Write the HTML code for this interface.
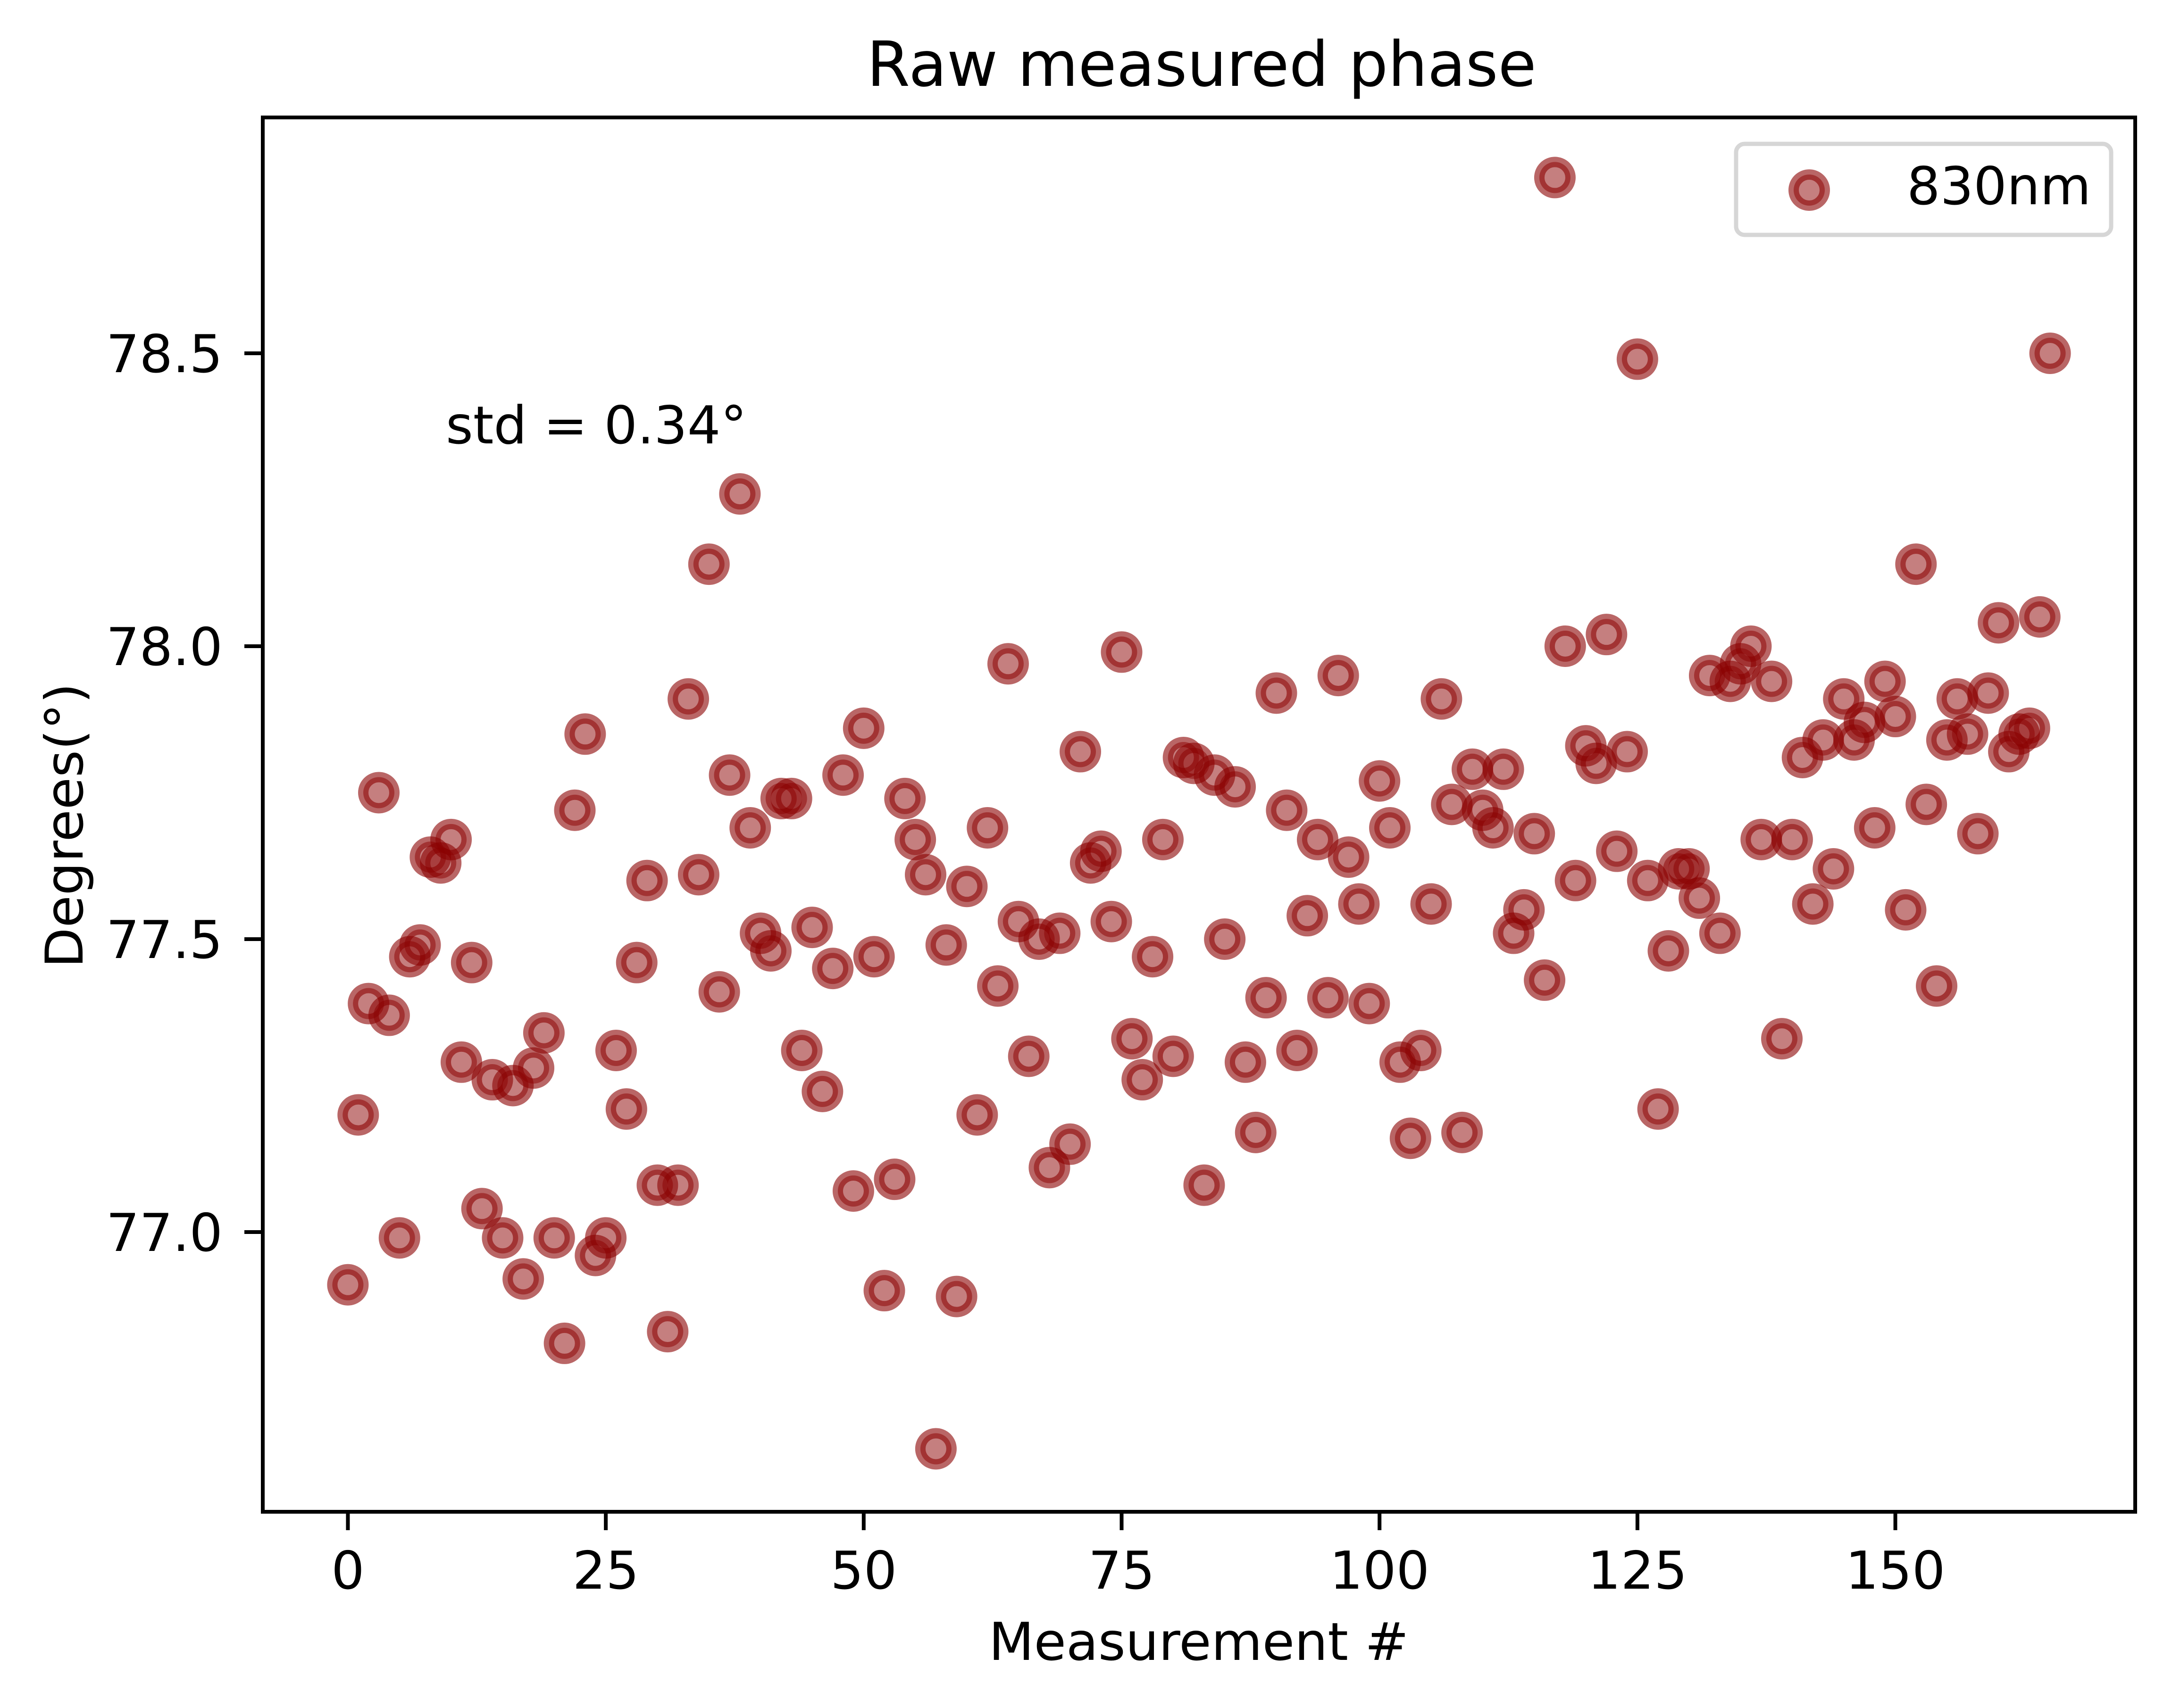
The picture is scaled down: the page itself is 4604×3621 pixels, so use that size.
<!DOCTYPE html>
<html><head><meta charset="utf-8"><style>
html,body{margin:0;padding:0;background:#fff;}
svg{display:block;font-family:"DejaVu Sans","Liberation Sans",sans-serif;}
</style></head><body>
<svg id="chart" width="4604" height="3621" viewBox="0 0 4604 3621" xmlns="http://www.w3.org/2000/svg">
<rect width="4604" height="3621" fill="#fff"/>
<text x="2547" y="182" font-size="132" text-anchor="middle">Raw measured phase</text>
<g id="marks"></g>
<g id="axes"></g>
<text x="945" y="940" font-size="111">std = 0.34°</text>
<text x="2541" y="3519" font-size="111" text-anchor="middle">Measurement #</text>
<text x="0" y="0" font-size="111" text-anchor="middle" transform="translate(175,1750) rotate(-90)">Degrees(°)</text>
<g>
<rect x="3680" y="305" width="795" height="193" rx="18" fill="#fff" fill-opacity="0.8" stroke="#d6d6d6" stroke-width="9"/>
<circle cx="3835" cy="403" r="33" fill="#8b0000" fill-opacity="0.5" stroke="#8b0000" stroke-opacity="0.6" stroke-width="22"/>
<text x="4042" y="433" font-size="111">830nm</text>
</g>
</svg>
<script>
const yValues = [76.91,77.20,77.39,77.75,77.37,76.99,77.47,77.49,77.64,77.63,77.67,77.29,77.46,77.04,77.26,76.99,77.25,76.92,77.28,77.34,
76.99,76.81,77.72,77.85,76.96,76.99,77.31,77.21,77.46,77.60,77.08,76.83,77.08,77.91,77.61,78.14,77.41,77.78,78.26,77.69,
77.51,77.48,77.74,77.74,77.31,77.52,77.24,77.45,77.78,77.07,77.86,77.47,76.90,77.09,77.74,77.67,77.61,76.63,77.49,76.89,
77.59,77.20,77.69,77.42,77.97,77.53,77.30,77.50,77.11,77.51,77.15,77.82,77.63,77.65,77.53,77.99,77.33,77.26,77.47,77.67,
77.30,77.81,77.80,77.08,77.78,77.50,77.76,77.29,77.17,77.40,77.92,77.72,77.31,77.54,77.67,77.40,77.95,77.64,77.56,77.39,
77.77,77.69,77.29,77.16,77.31,77.56,77.91,77.73,77.17,77.79,77.72,77.69,77.79,77.51,77.55,77.68,77.43,78.80,78.00,77.60,
77.83,77.80,78.02,77.65,77.82,78.49,77.60,77.21,77.48,77.62,77.62,77.57,77.95,77.51,77.94,77.97,78.00,77.67,77.94,77.33,
77.67,77.81,77.56,77.84,77.62,77.91,77.84,77.87,77.69,77.94,77.88,77.55,78.14,77.73,77.42,77.84,77.91,77.85,77.68,77.92,
78.04,77.82,77.85,77.86,78.05,78.50];
const xTicks = [0,25,50,75,100,125,150];
const yTicks = [77.0,77.5,78.0,78.5];
const yTickLabels = ["77.0","77.5","78.0","78.5"];

const NS="http://www.w3.org/2000/svg";
const L=557,R=4526,T=249,B=3205;
const n=yValues.length;
const xmin=-0.05*(n-1), xmax=(n-1)*1.05;
const ymin=76.5225, ymax=78.9026;
const sx=v=>L+(v-xmin)/(xmax-xmin)*(R-L);
const sy=v=>B-(v-ymin)/(ymax-ymin)*(B-T);
function mk(tag,attrs,parent){const e=document.createElementNS(NS,tag);for(const k in attrs)e.setAttribute(k,attrs[k]);parent.appendChild(e);return e;}
const marks=document.getElementById('marks');
yValues.forEach((v,i)=>{
  const c=mk('circle',{cx:sx(i),cy:sy(v),r:33,fill:'#8b0000','fill-opacity':0.5,stroke:'#8b0000','stroke-opacity':0.6,'stroke-width':22},marks);
  
  
});
const axes=document.getElementById('axes');
const frame=mk('rect',{x:L,y:T,width:R-L,height:B-T,fill:'none',stroke:'#000','stroke-width':8},axes);


xTicks.forEach(t=>{
  const x=sx(t);
  const tk=mk('line',{x1:x,y1:B,x2:x,y2:B+39,stroke:'#000','stroke-width':8},axes);
  
  
  const tx=mk('text',{x:x,y:3368,'font-size':111,'text-anchor':'middle'},axes);
  tx.textContent=String(t);
  
  
});
yTicks.forEach((t,i)=>{
  const y=sy(t);
  const tk=mk('line',{x1:L-39,y1:y,x2:L,y2:y,stroke:'#000','stroke-width':8},axes);
  
  
  const tx=mk('text',{x:472,y:y+40,'font-size':111,'text-anchor':'end'},axes);
  tx.textContent=yTickLabels[i];
  
  
});
</script>
</body></html>
